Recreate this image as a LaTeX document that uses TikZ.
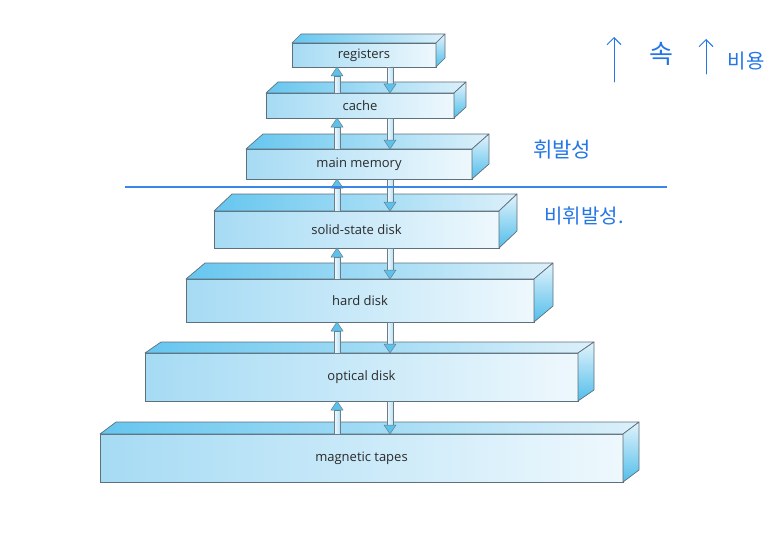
\documentclass[tikz,border=0pt]{standalone}
\usepackage{fontspec}
\setmainfont{Open Sans}
\newfontfamily\hangul{Noto Sans CJK KR}
\usetikzlibrary{arrows.meta,calc}

\definecolor{boxline}{HTML}{5E707C}
\definecolor{frontL}{HTML}{A6DBF4}
\definecolor{frontR}{HTML}{EEF8FD}
\definecolor{topL}{HTML}{66C6EF}
\definecolor{topR}{HTML}{DCF0FA}
\definecolor{sideT}{HTML}{E2F3FB}
\definecolor{sideB}{HTML}{52BEEB}
\definecolor{labeltxt}{HTML}{2A2A2A}
\definecolor{arrline}{HTML}{6A7E8A}
\definecolor{shaftL}{HTML}{F4FAFD}
\definecolor{shaftR}{HTML}{B8E2F6}
\definecolor{headblue}{HTML}{5CC2EC}
\definecolor{handblue}{HTML}{2476E6}
\definecolor{dividerblue}{HTML}{3A85E6}

% flow arrows between two levels
\newcommand\upflow[2]{%
  \draw[shaft] let \p1=(#1), \p2=(#2) in (\x1-3pt,\y1) rectangle (\x1+3pt,\y2-9pt);
  \draw[head] let \p1=(#1), \p2=(#2) in (\x2-6pt,\y2-9pt) -- (\x2,\y2) -- (\x2+6pt,\y2-9pt) -- cycle;}
\newcommand\downflow[2]{%
  \draw[shaft] let \p1=(#1), \p2=(#2) in (\x1-3pt,\y1) rectangle (\x1+3pt,\y2+9pt);
  \draw[head] let \p1=(#1), \p2=(#2) in (\x2-6pt,\y2+9pt) -- (\x2,\y2) -- (\x2+6pt,\y2+9pt) -- cycle;}

\begin{document}
\begin{tikzpicture}[x=1pt, y=-1pt,
    front/.style={draw=boxline, line width=0.7pt, left color=frontL, right color=frontR,
      anchor=north west, inner sep=0pt, outer sep=0pt, text=labeltxt,
      font=\fontsize{13}{15}\selectfont},
    topface/.style={draw=boxline, line width=0.7pt, line join=round, left color=topL, right color=topR},
    sideface/.style={draw=boxline, line width=0.7pt, line join=round, top color=sideT, bottom color=sideB},
    shaft/.style={draw=arrline, line width=0.5pt, left color=shaftL, right color=shaftR},
    head/.style={draw=arrline, line width=0.5pt, fill=headblue},
    divider/.style={dividerblue, line width=1.6pt},
    hand/.style={text=handblue, inner sep=0pt},
    handarrow/.style={draw=handblue, line width=1pt, line cap=round,
      -{Straight Barb[length=7pt, width=14pt]}},
  ]
  \fill[white] (0,0) rectangle (782,535);

  % storage levels: name / left / top / width / height / depth x / depth y / label
  \foreach \n/\l/\t/\w/\h/\dx/\dy/\txt in {
      reg/292/43/144/24/9/9/registers,
      cache/266/93/188/25/12/11/cache,
      mem/246/149/226/30/17/15/main memory,
      ssd/214/211/285/37/18/17/solid-state disk,
      hdd/186/279/348/43/19/16/hard disk,
      opt/145/353/433/48/16/11/optical disk,
      tape/100/434/523/48/16/12/magnetic tapes} {
    \node[front, minimum width=\w pt, minimum height=\h pt] (\n) at (\l,\t) {\txt};
    \shade[topface] (\n.north west) -- ++(\dx,-\dy) -- ++(\w,0) -- (\n.north east) -- cycle;
    \shade[sideface] (\n.north east) -- ++(\dx,-\dy) -- ++(0,\h) -- (\n.south east) -- cycle;
  }

  \coordinate (upx) at (337,0);
  \coordinate (downx) at (390,0);
  \foreach \a/\b in {reg/cache, cache/mem, mem/ssd, ssd/hdd, hdd/opt, opt/tape} {
    \upflow{\b.north -| upx}{\a.south -| upx}
    \downflow{\a.south -| downx}{\b.north -| downx}
  }

  % handwritten notes
  \coordinate (speedtail) at (614,82);
  \coordinate (speedtip) at (614,37);
  \draw[handarrow] (speedtail) -- (speedtip);
  \node[hand, font=\hangul\fontsize{26}{28}\selectfont] (speed) at (661,54) {속};
  \coordinate (costtail) at (706,74);
  \coordinate (costtip) at (706,39);
  \draw[handarrow] (costtail) -- (costtip);
  \node[hand, font=\hangul\fontsize{20}{22}\selectfont] (cost) at (746,61) {비용};
  \node[hand, font=\hangul\fontsize{21}{24}\selectfont] (volatile) at (562,150) {휘발성};
  \node[hand, font=\hangul\fontsize{20}{22}\selectfont] (nonvolatile) at (584,216) {비휘발성.};

  % volatile / non-volatile divider
  \draw[divider] (125,187) -- (667,187);
\end{tikzpicture}
\end{document}
